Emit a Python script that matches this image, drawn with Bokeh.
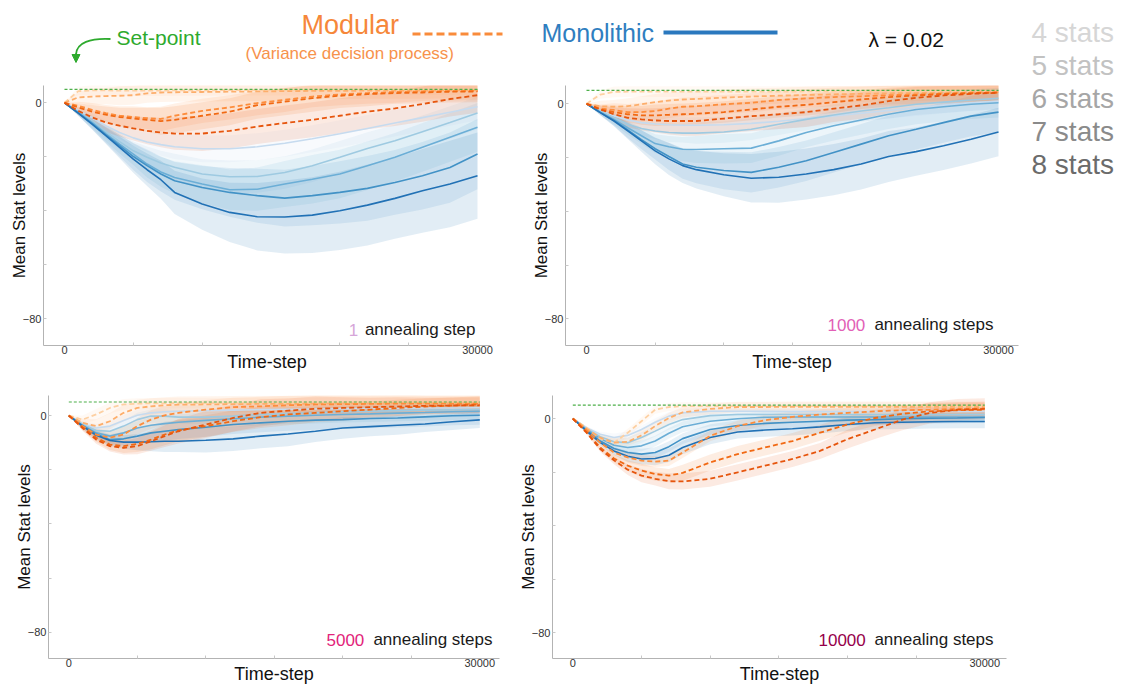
import numpy as np
from bokeh.plotting import figure
from bokeh.models import Range1d, Label, FixedTicker, Arrow, NormalHead, Spacer
from bokeh.layouts import row, column
from bokeh.embed import file_html
from bokeh.resources import INLINE

FONT = "Liberation Sans"

# ---------------- data ----------------
T = [0, 1000, 2000, 3000, 4000, 5000, 6000, 7000, 8000, 10000, 12000,
     14000, 16000, 18000, 20000, 22000, 24000, 26000, 28000, 30000]
SETPOINT = 5.0
STAT_LABELS = ["4 stats", "5 stats", "6 stats", "7 stats", "8 stats"]
STAT_TEXT_COLORS = ["#d6d6d6", "#c2c2c2", "#a6a6a6", "#8a8a8a", "#6b6b6b"]
BLUES = ["#c6dbef", "#9ecae1", "#6baed6", "#4292c6", "#2171b5"]
ORANGES = ["#fdd0a2", "#fdae6b", "#fd8d3c", "#f16913", "#e6550d"]

ANNEAL_STEPS = ["1", "1000", "5000", "10000"]
ANNEAL_WORDS = ["annealing step", "annealing steps", "annealing steps", "annealing steps"]
ANNEAL_COLORS = ["#d6a6d9", "#e260b6", "#e2237a", "#96004a"]

# panel 1 : 1 annealing step
P1_MONO = [
    [0, -2.8, -5.5, -8.5, -11, -13, -14.5, -15.5, -16.3, -17, -17, -16.3, -15, -13.3, -11.5, -9.5, -7.5, -5.5, -3.5, -1.5],
    [0, -3.3, -6.7, -10.7, -14.4, -17.8, -20.2, -22.3, -23.9, -26.4, -27.4, -27.3, -25.8, -23.3, -20.2, -16.9, -14.1, -10.7, -7.3, -3.8],
    [0, -3.6, -7.3, -11.4, -15.3, -19, -22.7, -25.6, -27.7, -30.1, -32.2, -32, -30.1, -28.3, -26.4, -23.3, -20.2, -16.5, -12.8, -9.1],
    [0, -3.8, -7.7, -11.9, -15.9, -19.9, -23.3, -26.4, -28.9, -31.4, -33.2, -34.4, -35.3, -34.4, -33.2, -31.7, -29.5, -27, -24, -19],
    [0, -3.8, -7.9, -12.2, -16.5, -20.9, -24.8, -28.5, -33.2, -37.5, -40.6, -42.2, -42.3, -41.6, -40, -37.9, -35.4, -32.6, -30.1, -27],
]
P1_MONO_SD = [
    [0, 1, 1.5, 2, 2.5, 3, 3.5, 4, 4.5, 5, 5, 5, 5, 5, 5, 5, 5, 5, 5, 5],
    [0, 1, 2, 2.5, 3, 3.5, 4, 4.5, 5, 5.5, 6, 6, 6, 6, 6, 6, 6, 6, 6, 6],
    [0, 1, 2, 3, 3.5, 4, 5, 5.5, 6, 7, 7.5, 8, 8.5, 9, 9, 9, 9, 9, 9, 9],
    [0, 1, 2, 3, 4, 5, 6, 6.5, 7, 8, 9, 10, 10.5, 11, 11.5, 12, 12, 12.5, 13, 13],
    [0, 1, 2, 3, 4, 5, 6, 7, 8, 9.5, 11, 12.5, 13.5, 14, 14.5, 15, 15, 15.5, 16, 16],
]
P1_MOD = [
    [0, 4.3, 4.6, 4.6, 4.5, 4.5, 4.5, 4.5, 4.6, 4.6, 4.7, 4.7, 4.7, 4.7, 4.7, 4.8, 4.8, 4.8, 4.8, 4.8],
    [0, 2, 2.3, 2.5, 2.6, 2.8, 3.5, 3.8, 3.9, 4.0, 4.1, 4.2, 4.3, 4.4, 4.4, 4.5, 4.5, 4.5, 4.6, 4.6],
    [0, -1.1, -2.6, -3.8, -4.8, -5.3, -5.7, -6, -4.8, -3, -1.7, -0.1, 1.1, 2.3, 3.1, 3.6, 4, 4.2, 4.3, 4.4],
    [0, -1.7, -3.3, -4.4, -5.3, -5.8, -6.3, -6.8, -6.3, -4.8, -3.3, -0.9, 0.4, 1.7, 2.6, 3.2, 3.6, 3.8, 4.1, 4.2],
    [0, -3, -5.4, -7.3, -8.5, -9.5, -10.4, -11, -11.4, -11.4, -10.4, -8.8, -7.5, -6.3, -4.8, -3.3, -2.1, -0.5, 1.4, 2.8],
]
P1_MOD_SD = [
    [0, 1.5, 2, 2, 2, 2, 2, 2, 2, 2, 2, 2, 2, 2, 2, 2, 2, 2, 2, 2],
    [0, 2, 3, 3, 3.5, 3.5, 3.5, 3.5, 3.5, 3.5, 3.5, 3.5, 3.5, 3, 3, 3, 3, 3, 3, 3],
    [0, 1.5, 2.5, 3, 3.5, 4, 4, 4.5, 4.5, 4.5, 4.5, 4.5, 4.5, 4, 4, 4, 4, 3.5, 3.5, 3.5],
    [0, 1.5, 2.5, 3, 3.5, 4, 4.5, 5, 5, 5, 5, 5, 5, 5, 4.5, 4.5, 4, 4, 4, 4],
    [0, 1.5, 2.5, 3.5, 4, 4.5, 5, 5.5, 6, 6.5, 6.5, 6.5, 6.5, 6.5, 6.5, 6.5, 6.5, 6.5, 6.5, 6.5],
]

# panel 2 : 1000 annealing steps
P2_MONO = [
    [0, -2.5, -4.5, -6, -7, -7.5, -7.8, -8, -8, -7.8, -7.3, -6.5, -5.5, -4.5, -3.5, -2.5, -1.5, -0.5, 0.3, 1],
    [0, -2.7, -5.2, -7.6, -9.2, -10.1, -10.7, -10.9, -10.9, -10.5, -9.5, -7.6, -5.8, -4.2, -2.7, -1.5, -0.2, 0.6, 1.4, 2],
    [0, -3.1, -5.8, -8.9, -11.9, -14.8, -16, -16.9, -17, -16.7, -16.5, -13.8, -10.7, -8.2, -6, -3.9, -2.1, -1.1, -0.2, 0.4],
    [0, -3.2, -6.2, -9.7, -13.3, -16.7, -19.6, -22.4, -23.6, -24.8, -25.5, -23.6, -21.2, -18.1, -15, -11.9, -9.5, -7, -4.6, -3.1],
    [0, -3.3, -6.4, -10.1, -13.8, -17.5, -20.5, -23, -24.5, -26.4, -27.7, -27.3, -26.1, -24.5, -22.4, -19.6, -17.8, -15.6, -13.2, -10.5],
]
P2_MONO_SD = [
    [0, 1, 1.5, 2, 2.5, 3, 3, 3, 3, 3, 3, 3, 3, 3, 3, 3, 3, 3, 3, 3],
    [0, 1, 1.5, 2, 2.5, 3, 3.5, 3.5, 4, 4, 4, 4, 4, 4, 4, 4, 4, 4, 4, 4],
    [0, 1, 2, 2.5, 3, 3.5, 4, 4.5, 5, 5.5, 5.5, 5.5, 5.5, 5.5, 5.5, 5.5, 5.5, 5.5, 5.5, 5.5],
    [0, 1, 2, 3, 3.5, 4, 5, 5.5, 6, 7, 7.5, 7.5, 7.5, 7.5, 7.5, 7.5, 7.5, 7.5, 7.5, 7.5],
    [0, 1, 2, 3, 4, 5, 6, 6.5, 7, 8, 9, 9.5, 9.5, 9.5, 9.5, 9.5, 9, 9, 9, 9],
]
P2_MOD = [
    [0, 3.4, 4.4, 4.5, 4.5, 4.5, 4.5, 4.5, 4.5, 4.5, 4.5, 4.5, 4.6, 4.6, 4.6, 4.6, 4.6, 4.6, 4.6, 4.6],
    [0, -0.9, -1.1, -0.9, -0.2, 0.6, 1.2, 1.6, 1.8, 2.3, 2.7, 3.0, 3.3, 3.5, 3.7, 3.9, 4.0, 4.1, 4.2, 4.3],
    [0, -1.8, -2.3, -3.1, -3.1, -2.7, -1.8, -1.1, -0.9, -0.2, 0.4, 1.4, 2, 2.5, 2.8, 3.2, 3.4, 3.8, 4.1, 4.2],
    [0, -2.1, -3.1, -3.9, -4.3, -4.3, -4.1, -3.9, -3.7, -3.1, -2.1, -1.1, -0.4, 0.6, 1.6, 2.5, 3.1, 3.6, 3.9, 4.2],
    [0, -2.1, -3.9, -5.2, -5.8, -6.2, -6.4, -6.4, -6.4, -5.5, -4.6, -3.9, -3.1, -1.8, -0.6, 1, 2.2, 3.1, 3.7, 4.1],
]
P2_MOD_SD = [
    [0, 1.5, 2, 2, 2, 2, 2, 2, 2, 2, 2, 2, 2, 2, 2, 2, 2, 2, 2, 2],
    [0, 2, 2.5, 3, 3, 3, 3, 3, 3, 3, 3, 3, 3, 3, 3, 3, 3, 3, 3, 3],
    [0, 1.5, 2.5, 3, 3.5, 3.5, 3.5, 3.5, 3.5, 3.5, 3.5, 3.5, 3.5, 3.5, 3.5, 3.5, 3.5, 3.5, 3.5, 3.5],
    [0, 1.5, 2.5, 3, 3.5, 4, 4, 4, 4, 4, 4, 4, 4, 4, 3.5, 3.5, 3.5, 3, 3, 3],
    [0, 1.5, 2.5, 3.5, 4, 4.5, 5, 5.5, 5.5, 5.5, 5.5, 5.5, 5.5, 5, 5, 4.5, 4, 3.5, 3, 3],
]

# panel 3 : 5000 annealing steps
P3_MONO = [
    [0, -3.1, -4.6, -3.9, -1.8, 0.1, 1.0, 1.4, 1.6, 1.8, 2.0, 2.2, 2.3, 2.4, 2.5, 2.6, 2.7, 2.8, 2.8, 2.9],
    [0, -3.3, -5.5, -5.8, -3.9, -1.5, -0.2, -0.2, -0.6, -0.6, -0.2, 0.4, 0.7, 1.0, 1.4, 1.6, 1.8, 2.0, 2.1, 2.2],
    [0, -3.6, -6.4, -7.6, -6.4, -4.6, -3.6, -3.0, -2.5, -1.8, -1.2, -0.6, -0.2, 0.1, 0.4, 0.6, 0.9, 1.1, 1.4, 1.6],
    [0, -3.7, -6.8, -8.9, -8.6, -7.6, -6.4, -5.8, -5.2, -4.3, -3.3, -2.7, -2.1, -1.7, -1.5, -1.1, -0.9, -0.5, -0.1, 0.1],
    [0, -3.9, -7.3, -9.2, -9.8, -9.8, -9.7, -9.5, -9.5, -9.1, -8.6, -7.6, -6.8, -5.8, -4.6, -4.1, -3.6, -3.1, -2.3, -1.6],
]
P3_MONO_SD = [
    [0, 1, 1.5, 2, 2, 2, 2, 2, 2, 2, 2, 2, 2, 2, 2, 2, 2, 2, 2, 2],
    [0, 1, 1.5, 2, 2, 2.5, 2.5, 2.5, 2.5, 2.5, 2.5, 2.5, 2.5, 2.5, 2.5, 2.5, 2.5, 2.5, 2.5, 2.5],
    [0, 1, 1.5, 2, 2.5, 2.5, 3, 3, 3, 3, 3, 3, 3, 3, 3, 3, 3, 3, 3, 3],
    [0, 1, 1.5, 2, 2.5, 3, 3, 3.5, 3.5, 3.5, 3.5, 3.5, 3.5, 3.5, 3.5, 3.5, 3.5, 3.5, 3.5, 3.5],
    [0, 1, 1.5, 2, 2.5, 3, 3.5, 4, 4, 4.5, 4.5, 4.5, 4.5, 4, 4, 3.5, 3.5, 3, 3, 3],
]
P3_MOD = [
    [0, -1.5, 0.4, 2.8, 4.1, 4.4, 4.5, 4.5, 4.6, 4.6, 4.6, 4.6, 4.6, 4.6, 4.7, 4.7, 4.7, 4.7, 4.7, 4.7],
    [0, -2.7, -3.9, -2.1, 1.0, 2.8, 3.4, 3.8, 4.0, 4.1, 4.2, 4.3, 4.3, 4.4, 4.4, 4.4, 4.5, 4.5, 4.5, 4.5],
    [0, -3.9, -7.0, -8.2, -7.0, -3.9, -1.5, 0.1, 1.0, 2.2, 3.1, 3.4, 3.8, 4.1, 4.2, 4.3, 4.4, 4.4, 4.4, 4.4],
    [0, -4.3, -8.2, -10.7, -11.3, -10.5, -8.9, -7.0, -5.5, -3.9, -2.1, -0.6, 0.4, 1.0, 1.6, 2.2, 2.8, 3.3, 3.7, 4.1],
    [0, -4.6, -8.9, -11.3, -11.9, -11.3, -9.5, -7.6, -5.8, -3.3, -0.9, 1.0, 1.8, 2.5, 2.8, 3.1, 3.3, 3.6, 3.7, 3.8],
]
P3_MOD_SD = [
    [0, 1.5, 2, 2, 2, 2, 2, 2, 2, 2, 2, 2, 2, 2, 2, 2, 2, 2, 2, 2],
    [0, 1.5, 2.5, 3, 3, 3, 3, 3, 3, 3, 3, 3, 3, 3, 3, 3, 3, 3, 3, 3],
    [0, 1, 2, 2.5, 3, 3, 3.5, 3.5, 3.5, 3.5, 3.5, 3.5, 3.5, 3.5, 3.5, 3.5, 3.5, 3, 3, 3],
    [0, 1, 1.5, 2, 2.5, 3, 3.5, 4, 4, 4, 4, 4, 4, 3.5, 3.5, 3, 3, 3, 3, 3],
    [0, 1, 1.5, 2, 2.5, 3, 3.5, 4, 4.5, 5, 5, 5, 4.5, 4.5, 4, 3.5, 3.5, 3, 3, 3],
]

# panel 4 : 10000 annealing steps
P4_MONO = [
    [0, -3.4, -5.9, -7.1, -6.3, -4.1, -1.4, 0.9, 2.1, 2.7, 2.7, 2.7, 2.6, 2.6, 2.6, 2.6, 2.6, 2.6, 2.6, 2.6],
    [0, -3.8, -6.8, -8.7, -9.0, -7.1, -4.7, -2.2, -0.4, 1.1, 1.5, 1.5, 1.5, 1.5, 1.5, 1.5, 1.5, 1.5, 1.5, 1.5],
    [0, -4.1, -7.5, -10.0, -10.8, -10.2, -8.4, -5.5, -3.1, -1.0, -0.1, 0.5, 0.6, 0.6, 0.6, 0.6, 0.6, 0.6, 0.6, 0.6],
    [0, -4.4, -8.4, -11.2, -12.7, -13.3, -12.7, -10.5, -7.5, -4.1, -2.6, -1.8, -1.4, -1.0, -0.6, -0.4, -0.1, 0.1, 0.2, 0.4],
    [0, -4.7, -9.0, -12.1, -14.1, -15.1, -14.9, -13.7, -10.8, -7.1, -5.0, -4.3, -3.8, -3.1, -2.2, -1.6, -1.4, -1.2, -1.1, -1.1],
]
P4_MONO_SD = [
    [0, 0.5, 1, 1.5, 1.5, 1.5, 1.5, 1.5, 1.5, 1.5, 1.5, 1.5, 1.5, 1.5, 1.5, 1.5, 1.5, 1.5, 1.5, 1.5],
    [0, 0.5, 1, 1.5, 2, 2, 2, 2, 2, 2, 2, 2, 2, 2, 2, 2, 2, 2, 2, 2],
    [0, 0.5, 1, 1.5, 2, 2, 2, 2, 2, 2, 2, 2, 2, 2, 2, 2, 2, 2, 2, 2],
    [0, 0.5, 1, 1.5, 2, 2, 2, 2, 2, 2, 2, 2, 2, 2, 2, 2, 2, 2, 2, 2],
    [0, 0.5, 1, 1.5, 2, 2, 2.5, 2.5, 2.5, 2.5, 2.5, 2.5, 2.5, 2.5, 2.5, 2.5, 2.5, 2.5, 2.5, 2.5],
]
P4_MOD = [
    [0, -3.4, -7.5, -9.0, -5.3, -1.0, 3.3, 4.3, 4.6, 4.6, 4.6, 4.6, 4.6, 4.6, 4.6, 4.6, 4.6, 4.6, 4.6, 4.6],
    [0, -3.8, -7.1, -9.0, -8.7, -6.3, -2.8, 0.2, 2.3, 3.6, 4.3, 4.3, 4.4, 4.4, 4.4, 4.4, 4.4, 4.4, 4.4, 4.4],
    [0, -4.3, -9.0, -12.7, -14.5, -15.7, -16.1, -15.7, -12.7, -6.5, -2.8, -0.6, 0.6, 1.5, 2.1, 2.7, 3.1, 3.3, 3.6, 3.8],
    [0, -5.0, -10.8, -14.9, -17.6, -19.4, -20.7, -21.3, -20.3, -16.4, -13.3, -10.8, -8.4, -5.3, -2.2, 0.2, 1.8, 2.7, 3.1, 3.3],
    [0, -5.3, -11.4, -15.6, -19.1, -21.3, -22.5, -23.4, -23.5, -22.5, -20.1, -17.6, -15.1, -12.1, -7.7, -4.1, -0.4, 2.1, 3.3, 3.6],
]
P4_MOD_SD = [
    [0, 0.5, 1, 1.5, 1.5, 1.5, 1.5, 1.5, 1.5, 1.5, 1.5, 1.5, 1.5, 1.5, 1.5, 1.5, 1.5, 1.5, 1.5, 1.5],
    [0, 0.5, 1, 1.5, 1.5, 2, 2, 2, 2, 2, 2, 2, 2, 2, 2, 2, 2, 2, 2, 2],
    [0, 0.5, 1, 1.5, 2, 2, 2, 2, 2, 2, 2, 2, 2, 2, 2, 2, 2, 2, 2, 2],
    [0, 0.5, 1, 1.5, 2, 2.5, 2.5, 2.5, 3, 3, 3, 3, 3, 3, 3, 3, 3, 3, 3, 3],
    [0, 0.5, 1, 1.5, 2, 2.5, 2.5, 3, 3, 3, 3, 3, 3, 3, 3.5, 3.5, 4, 4, 4, 4],
]

PANELS = [
    (P1_MONO, P1_MONO_SD, P1_MOD, P1_MOD_SD),
    (P2_MONO, P2_MONO_SD, P2_MOD, P2_MOD_SD),
    (P3_MONO, P3_MONO_SD, P3_MOD, P3_MOD_SD),
    (P4_MONO, P4_MONO_SD, P4_MOD, P4_MOD_SD),
]

# ---------------- layout specs (pixels / ranges) ----------------
LEFT_PAD, TOP_PAD = 5, 8
# (width, height, border_left, border_right, border_top, border_bottom)
SIZES = [(505, 307, 38, 20, 15, 32), (513, 307, 55, 5, 15, 31),
         (509, 312, 43, 15, 18, 31), (501, 312, 38, 9, 18, 28)]
XRANGES = [(-1525, 30944), (-1529, 31456), (-1482, 31438), (-1478, 31580)]
YRANGES = [(-89.9, 6.4), (-89.9, 6.8), (-89.7, 7.4), (-89.6, 8.6)]
XLABEL_STANDOFF = [-5, -5, -6, -6]
NUM_X = [20651, 17549, 18810, 17891]
WORD_X = [29855, 29636, 30927, 30634]
ANNOT_Y = [-84.0, -82.1, -82.7, -82.6]


def make_panel(k):
    mono, mono_sd, mod, mod_sd = PANELS[k]
    w, h, bl, br, bt, bb = SIZES[k]
    p = figure(width=w, height=h, x_range=Range1d(*XRANGES[k]), y_range=Range1d(*YRANGES[k]),
               output_backend="svg", toolbar_location=None, title=None,
               min_border_left=bl, min_border_right=br, min_border_top=bt, min_border_bottom=bb)
    p.xgrid.visible = False
    p.ygrid.visible = False
    p.outline_line_color = None
    p.background_fill_color = "white"
    p.border_fill_color = "white"

    x = np.array(T, dtype=float)
    for i in range(5):
        m = np.array(mono[i]); s = np.array(mono_sd[i])
        p.varea(x=x, y1=m - s, y2=m + s, fill_color=BLUES[i], fill_alpha=0.13)
    for i in range(5):
        m = np.array(mod[i]); s = np.array(mod_sd[i])
        p.varea(x=x, y1=m - s, y2=m + s, fill_color=ORANGES[i], fill_alpha=0.12)
    for i in range(5):
        p.line(x, mono[i], line_color=BLUES[i], line_width=1.6)
    for i in range(5):
        p.line(x, mod[i], line_color=ORANGES[i], line_width=1.8, line_dash="5 3")
    p.line([T[0], T[-1]], [SETPOINT, SETPOINT], line_color="#4db04a", line_width=1.2,
           line_dash="3 2")

    for ax in (p.xaxis[0], p.yaxis[0]):
        ax.axis_line_color = "#b3b3b3"
        ax.axis_line_width = 1
        ax.major_tick_line_color = None
        ax.major_tick_in = 0
        ax.major_tick_out = 0
        ax.minor_tick_in = 3
        ax.minor_tick_out = 0
        ax.minor_tick_line_color = "#c8c8c8"
        ax.major_label_text_font = FONT
        ax.major_label_text_font_size = "11px"
        ax.major_label_text_color = "#333333"
        ax.axis_label_text_font = FONT
        ax.axis_label_text_font_style = "normal"
        ax.axis_label_text_color = "#111111"
    p.xaxis.ticker = FixedTicker(ticks=[0, 30000], minor_ticks=[5000, 10000, 15000, 20000, 25000])
    p.xaxis.major_label_overrides = {0: "0", 30000: "30000"}
    p.xaxis.major_label_standoff = 0
    p.xaxis.axis_label = "Time-step"
    p.xaxis.axis_label_text_font_size = "18px"
    p.xaxis.axis_label_standoff = XLABEL_STANDOFF[k]
    p.yaxis.ticker = FixedTicker(ticks=[-80, 0], minor_ticks=[-80, -60, -40, -20, 0])
    p.yaxis.major_label_overrides = {-80: "\u221280", 0: "0"}
    p.yaxis.major_label_standoff = 2
    p.yaxis.axis_label = "Mean Stat levels"
    p.yaxis.axis_label_text_font_size = "17px"
    p.yaxis.axis_label_standoff = -9

    p.add_layout(Label(x=WORD_X[k], y=ANNOT_Y[k], text=ANNEAL_WORDS[k], text_align="right",
                       text_baseline="middle", text_font=FONT, text_font_size="17px",
                       text_color="#1a1a1a"))
    p.add_layout(Label(x=NUM_X[k], y=ANNOT_Y[k], text=ANNEAL_STEPS[k], text_align="left",
                       text_baseline="middle", text_font=FONT, text_font_size="17px",
                       text_color=ANNEAL_COLORS[k]))
    return p


def bare(width, height, xr, yr):
    f = figure(width=width, height=height, x_range=Range1d(*xr), y_range=Range1d(*yr),
               x_axis_type=None, y_axis_type=None, output_backend="svg",
               toolbar_location=None, title=None, min_border=0)
    f.xgrid.visible = False
    f.ygrid.visible = False
    f.outline_line_color = None
    return f


def lbl(fig, x, y, text, color, size):
    fig.add_layout(Label(x=x, y=y, text=text, text_align="left", text_baseline="middle",
                         text_font=FONT, text_font_size=size, text_color=color))


# header (page-pixel coordinates)
header = bare(1018, 62, (LEFT_PAD, 1023), (TOP_PAD + 62, TOP_PAD))
GREEN = "#2eaa2e"
lbl(header, 116, 37, "Set-point", GREEN, "21px")
header.bezier(x0=[110], y0=[38.5], x1=[75.5], y1=[54], cx0=[90], cy0=[37.5],
              cx1=[76], cy1=[42], line_color=GREEN, line_width=1.8)
header.add_layout(Arrow(end=NormalHead(size=8, fill_color=GREEN, line_color=GREEN),
                        x_start=75.5, y_start=53, x_end=75.5, y_end=62,
                        line_color=GREEN, line_width=1.8))
lbl(header, 301, 24, "Modular", "#f6873a", "27px")
header.segment(x0=[412], y0=[33.5], x1=[502], y1=[33.5], line_color="#f98b3b",
               line_width=3, line_dash="8 4")
lbl(header, 245, 53, "(Variance decision process)", "#f7924c", "17px")
lbl(header, 541, 32, "Monolithic", "#2f7ec0", "25px")
header.segment(x0=[663], y0=[32], x1=[777], y1=[32], line_color="#2a78be", line_width=4)
lbl(header, 868, 39, "\u03bb = 0.02", "#111111", "21px")

# stats legend
legend_fig = bare(100, 190, (1023, 1123), (TOP_PAD + 190, TOP_PAD))
for i, (t, c) in enumerate(zip(STAT_LABELS, STAT_TEXT_COLORS)):
    lbl(legend_fig, 1031, 32 + 33 * i, t, c, "28px")

p1, p2, p3, p4 = [make_panel(k) for k in range(4)]
body = row(column(header, row(p1, p2), row(p3, p4)), legend_fig)
layout = column(Spacer(width=10, height=TOP_PAD), row(Spacer(width=LEFT_PAD, height=10), body))

open("out.html", "w").write(file_html(layout, INLINE))
